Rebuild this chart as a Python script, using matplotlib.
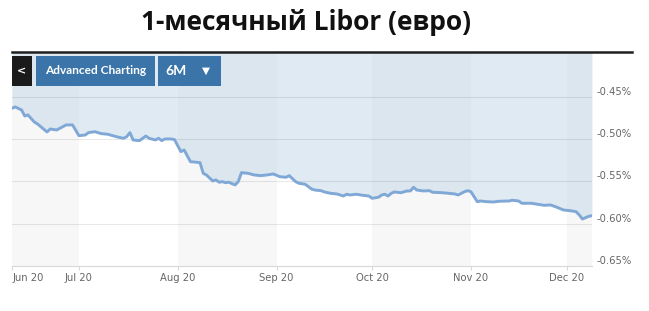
import matplotlib
matplotlib.use("Agg")
import matplotlib.pyplot as plt
import matplotlib.dates as mdates
from matplotlib.patches import Rectangle
from matplotlib.lines import Line2D
from matplotlib.transforms import ScaledTranslation
import pandas as pd

# 1-month EUR Libor, daily fixings (Jun-Dec 2020)
dates = [
    "2020-06-10", "2020-06-11", "2020-06-13", "2020-06-14", "2020-06-15", "2020-06-17",
    "2020-06-18", "2020-06-19", "2020-06-21", "2020-06-22", "2020-06-24", "2020-06-26",
    "2020-06-27", "2020-06-29", "2020-07-01", "2020-07-03", "2020-07-04", "2020-07-06",
    "2020-07-08", "2020-07-10", "2020-07-13", "2020-07-15", "2020-07-16", "2020-07-17",
    "2020-07-18", "2020-07-20", "2020-07-22", "2020-07-23", "2020-07-25", "2020-07-26",
    "2020-07-27", "2020-07-28", "2020-07-30", "2020-07-31", "2020-08-02", "2020-08-03",
    "2020-08-05", "2020-08-07", "2020-08-08", "2020-08-09", "2020-08-10", "2020-08-12",
    "2020-08-13", "2020-08-14", "2020-08-15", "2020-08-16", "2020-08-17", "2020-08-19",
    "2020-08-20", "2020-08-21", "2020-08-23", "2020-08-25", "2020-08-27", "2020-08-29",
    "2020-08-31", "2020-09-02", "2020-09-04", "2020-09-05", "2020-09-07", "2020-09-08",
    "2020-09-10", "2020-09-12", "2020-09-13", "2020-09-15", "2020-09-16", "2020-09-18",
    "2020-09-20", "2020-09-22", "2020-09-23", "2020-09-24", "2020-09-26", "2020-09-28",
    "2020-09-30", "2020-10-01", "2020-10-03", "2020-10-04", "2020-10-05", "2020-10-06",
    "2020-10-07", "2020-10-08", "2020-10-10", "2020-10-12", "2020-10-13", "2020-10-14",
    "2020-10-15", "2020-10-17", "2020-10-19", "2020-10-20", "2020-10-23", "2020-10-25",
    "2020-10-27", "2020-10-28", "2020-10-30", "2020-10-31", "2020-11-01", "2020-11-03",
    "2020-11-04", "2020-11-06", "2020-11-08", "2020-11-10", "2020-11-13", "2020-11-14",
    "2020-11-16", "2020-11-17", "2020-11-20", "2020-11-22", "2020-11-24", "2020-11-26",
    "2020-11-28", "2020-11-30", "2020-12-02", "2020-12-04", "2020-12-05", "2020-12-06",
    "2020-12-08", "2020-12-09",
]
rates = [
    -0.4634, -0.4618, -0.4654, -0.4725, -0.4713, -0.4796,
    -0.4820, -0.4851, -0.4914, -0.4879, -0.4891, -0.4851,
    -0.4831, -0.4831, -0.4958, -0.4950, -0.4922, -0.4911,
    -0.4934, -0.4941, -0.4973, -0.4989, -0.4970, -0.4922,
    -0.5009, -0.5017, -0.4962, -0.4989, -0.5009, -0.4989,
    -0.5017, -0.4997, -0.4997, -0.5005, -0.5147, -0.5127,
    -0.5266, -0.5273, -0.5277, -0.5403, -0.5423, -0.5494,
    -0.5482, -0.5509, -0.5502, -0.5514, -0.5509, -0.5541,
    -0.5502, -0.5396, -0.5403, -0.5423, -0.5431, -0.5423,
    -0.5411, -0.5443, -0.5450, -0.5431, -0.5502, -0.5521,
    -0.5533, -0.5589, -0.5601, -0.5609, -0.5624, -0.5640,
    -0.5648, -0.5672, -0.5651, -0.5660, -0.5651, -0.5663,
    -0.5672, -0.5699, -0.5687, -0.5660, -0.5651, -0.5672,
    -0.5640, -0.5624, -0.5633, -0.5612, -0.5612, -0.5569,
    -0.5601, -0.5612, -0.5609, -0.5628, -0.5633, -0.5640,
    -0.5648, -0.5660, -0.5621, -0.5609, -0.5621, -0.5739,
    -0.5731, -0.5739, -0.5743, -0.5734, -0.5731, -0.5722,
    -0.5731, -0.5758, -0.5758, -0.5770, -0.5782, -0.5778,
    -0.5805, -0.5837, -0.5845, -0.5857, -0.5896, -0.5944,
    -0.5912, -0.5905,
]
month_ticks = ["2020-06-10", "2020-07-01", "2020-08-01", "2020-09-01",
               "2020-10-01", "2020-11-01", "2020-12-01"]
month_labels = ["Jun 20", "Jul 20", "Aug 20", "Sep 20", "Oct 20", "Nov 20", "Dec 20"]
y_ticks = [-0.45, -0.50, -0.55, -0.60, -0.65]

df = pd.DataFrame({"date": pd.to_datetime(dates), "rate": rates})
ticks = pd.to_datetime(month_ticks)

W, H = 649, 311
fig = plt.figure(figsize=(W / 100, H / 100), dpi=100)
ax = fig.add_axes([12 / W, 1 - 266 / H, 580 / W, 213 / H])

y_top = -0.398
x0, x1 = df["date"].iloc[0], df["date"].iloc[-1]
ax.set_xlim(x0, x1)
ax.set_ylim(-0.65, y_top)

# alternating month bands
edges = list(ticks) + [x1]
for i in range(0, len(edges) - 1, 2):
    ax.axvspan(edges[i], edges[i + 1], color="#f7f7f7", lw=0, zorder=0)

ax.fill_between(df["date"], df["rate"], y_top, color="#c1d6e6", alpha=0.5, lw=0, zorder=1)
ax.grid(axis="y", color="#000000", alpha=0.09, lw=0.8, zorder=2)
ax.plot(df["date"], df["rate"], color="#7fa8d6", lw=2.1, zorder=3, solid_joinstyle="round")

for s in ["top", "left", "right"]:
    ax.spines[s].set_visible(False)
ax.spines["bottom"].set_color("#d8d8d8")

ax.set_xticks(ticks)
ax.set_xticklabels(month_labels)
ax.tick_params(axis="x", length=3, color="#d8d8d8", pad=2, labelsize=7.2, labelcolor="#666666")
ax.get_xticklabels()[0].set_horizontalalignment("left")

ax.yaxis.tick_right()
ax.set_yticks(y_ticks)
ax.set_yticklabels([f"{v:.2f}%" for v in y_ticks])
ax.tick_params(axis="y", length=0, pad=3, labelsize=7.2, labelcolor="#666666")
shift = ScaledTranslation(0, 6 / 100, fig.dpi_scale_trans)
for lab in ax.get_yticklabels():
    lab.set_transform(lab.get_transform() + shift)


def px_box(x, y, w, h, color):
    fig.patches.append(Rectangle((x / W, 1 - (y + h) / H), w / W, h / H,
                                 transform=fig.transFigure, color=color, lw=0, zorder=5))


# dark rule above the chart
fig.add_artist(Line2D([12 / W, 632 / W], [1 - 51.5 / H] * 2, color="#1e1e1e", lw=1.8))

# toolbar buttons
px_box(12, 56, 20, 30, "#1b1b1b")
px_box(36, 56, 119, 30, "#3a74a8")
px_box(158, 56, 63, 30, "#3a74a8")
fig.text(22 / W, 1 - 71 / H, "<", color="white", fontsize=8, weight="bold",
         ha="center", va="center", zorder=6)
fig.text(95.5 / W, 1 - 71 / H, "Advanced Charting", color="white", fontsize=8.6,
         family="Lato", weight="bold", ha="center", va="center", zorder=6)
fig.text(176 / W, 1 - 71 / H, "6M", color="white", fontsize=10, weight="bold",
         family="Lato", ha="center", va="center", zorder=6)
fig.text(206 / W, 1 - 71 / H, "\u25bc", color="white", fontsize=7.5,
         ha="center", va="center", zorder=6)

fig.text(141 / W, 1 - 22 / H, "1-месячный Libor (евро)", fontsize=19, weight="bold",
         family="Open Sans", ha="left", va="center", color="#111111")

fig.savefig("out.png", dpi=100)
